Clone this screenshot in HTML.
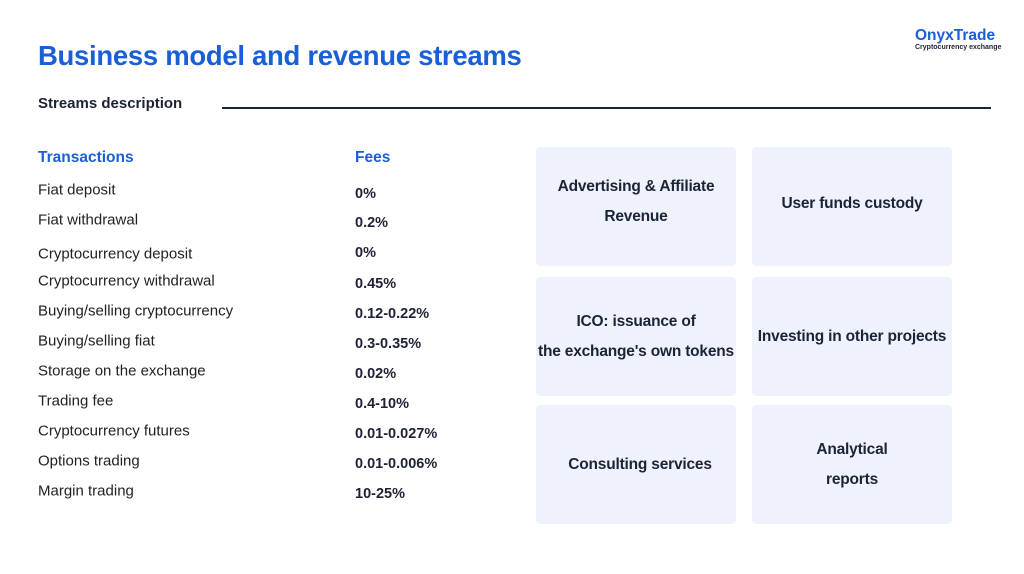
<!DOCTYPE html>
<html><head><meta charset="utf-8"><style>
body{margin:0;width:1024px;height:574px;background:#fff;position:relative;overflow:hidden;font-family:"Liberation Sans",sans-serif;color:#1e2235}
.a{position:absolute;white-space:nowrap}
.t{left:38px;font-size:15px;color:#222;transform:translateY(-50%)}
.f{left:355px;font-size:14.5px;font-weight:bold;color:#1e2235;transform:translateY(-50%)}
.box{position:absolute;width:200px;height:119px;background:#eef2fc;border-radius:4px;display:flex;align-items:center;justify-content:center;text-align:center;font-weight:bold;font-size:15.5px;line-height:30px;color:#1e2235;letter-spacing:-0.2px}
</style></head><body>
<div class="a" style="left:915px;top:27px;font-size:15.5px;font-weight:bold;color:#1a5fd6">OnyxTrade</div>
<div class="a" style="left:915px;top:44px;font-size:7px;font-weight:bold;color:#1e2235">Cryptocurrency exchange</div>
<div class="a" style="left:38px;top:40px;font-size:27.5px;font-weight:bold;color:#1a5fd6;letter-spacing:-0.3px">Business model and revenue streams</div>
<div class="a" style="left:38px;top:95px;font-size:15px;font-weight:bold">Streams description</div>
<div class="a" style="left:222px;top:107px;width:769px;height:2px;background:#1e2235"></div>
<div class="a" style="left:38px;top:149px;font-size:15.5px;font-weight:bold;color:#1a5fd6">Transactions</div>
<div class="a" style="left:355px;top:149px;font-size:15.5px;font-weight:bold;color:#1a5fd6">Fees</div>
<div class="a t" style="top:190px">Fiat deposit</div>
<div class="a t" style="top:220px">Fiat withdrawal</div>
<div class="a t" style="top:254px">Cryptocurrency deposit</div>
<div class="a t" style="top:281px">Cryptocurrency withdrawal</div>
<div class="a t" style="top:311px">Buying/selling cryptocurrency</div>
<div class="a t" style="top:341px">Buying/selling fiat</div>
<div class="a t" style="top:371px">Storage on the exchange</div>
<div class="a t" style="top:401px">Trading fee</div>
<div class="a t" style="top:431px">Cryptocurrency futures</div>
<div class="a t" style="top:461px">Options trading</div>
<div class="a t" style="top:491px">Margin trading</div>
<div class="a f" style="top:194px">0%</div>
<div class="a f" style="top:223px">0.2%</div>
<div class="a f" style="top:253px">0%</div>
<div class="a f" style="top:284px">0.45%</div>
<div class="a f" style="top:314px">0.12-0.22%</div>
<div class="a f" style="top:344px">0.3-0.35%</div>
<div class="a f" style="top:374px">0.02%</div>
<div class="a f" style="top:404px">0.4-10%</div>
<div class="a f" style="top:434px">0.01-0.027%</div>
<div class="a f" style="top:464px">0.01-0.006%</div>
<div class="a f" style="top:494px">10-25%</div>
<div class="box" style="left:536px;top:147px;padding-bottom:10px;box-sizing:border-box">Advertising &amp; Affiliate<br>Revenue</div>
<div class="box" style="left:752px;top:147px;padding-bottom:6px;box-sizing:border-box">User funds custody</div>
<div class="box" style="left:536px;top:277px">ICO: issuance of<br>the exchange's own tokens</div>
<div class="box" style="left:752px;top:277px">Investing in other projects</div>
<div class="box" style="left:536px;top:405px;padding-left:8px;box-sizing:border-box">Consulting services</div>
<div class="box" style="left:752px;top:405px">Analytical<br>reports</div>
</body></html>
